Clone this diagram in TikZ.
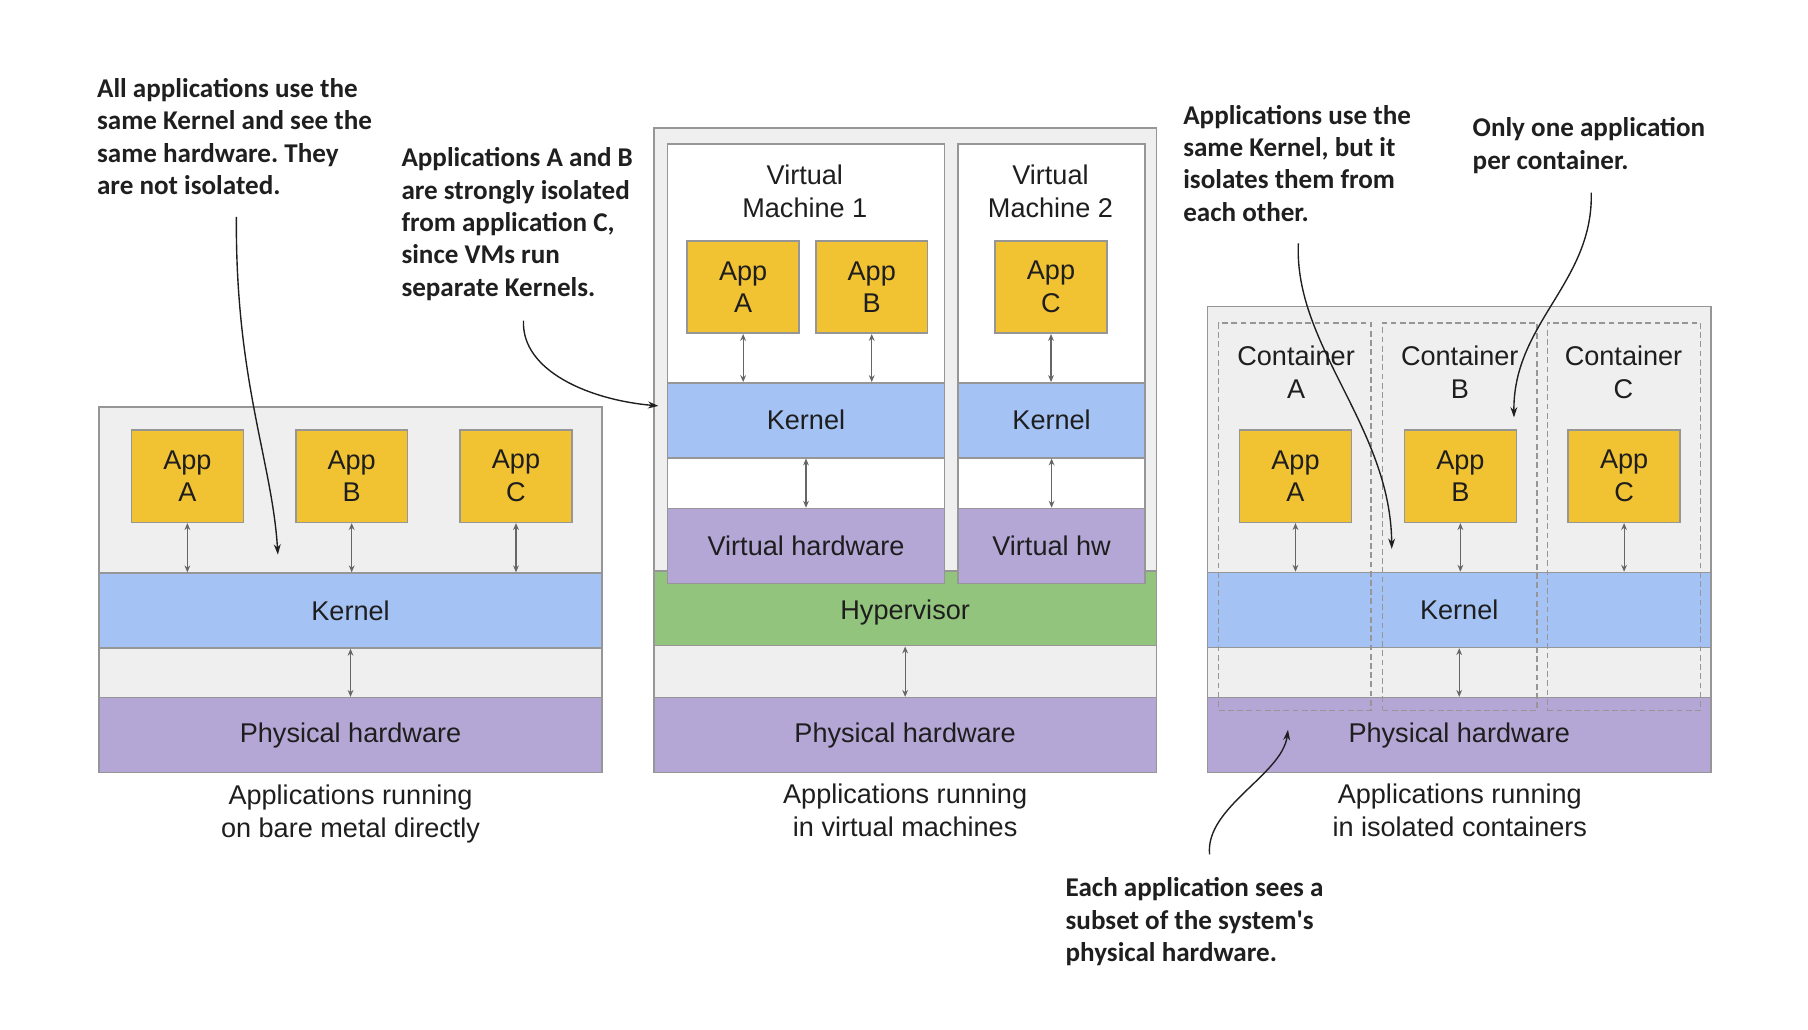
\documentclass[tikz,border=0pt]{standalone}
\usepackage{fontspec}
\setmainfont{Liberation Sans}
\newfontfamily\notefont{Carlito}
\usetikzlibrary{arrows.meta,positioning,calc}
\definecolor{appYellow}{RGB}{241,194,50}
\definecolor{kernBlue}{RGB}{164,194,244}
\definecolor{hwPurple}{RGB}{180,167,214}
\definecolor{hypGreen}{RGB}{147,196,125}
\definecolor{panelGray}{RGB}{239,239,239}
\definecolor{edgeGray}{RGB}{150,150,150}
\definecolor{txtDark}{RGB}{30,30,30}
\frenchspacing

\begin{document}
\begin{tikzpicture}[x=1pt, y=-1pt,
    box/.style={rectangle, draw=edgeGray, line width=1.3pt, inner sep=0pt,
                text=txtDark, align=center, font=\fontsize{23.5}{28.5}\selectfont},
    panel/.style={box, fill=panelGray},
    app/.style={box, fill=appYellow, minimum width=97pt, minimum height=80pt},
    layer/.style={box, minimum height=65pt},
    ctr/.style={rectangle, draw=edgeGray, line width=1.2pt, dash pattern=on 5pt off 3pt,
                minimum height=336pt, inner sep=0pt},
    lbl/.style={inner sep=0pt, text=txtDark, align=center, font=\fontsize{23.5}{28.5}\selectfont},
    note/.style={inner sep=0pt, anchor=north west, align=left, text=black!88,
                 font=\notefont\bfseries\fontsize{23.5}{28}\selectfont},
    link/.style={{Stealth[length=6pt,width=5pt]}-{Stealth[length=6pt,width=5pt]},
                 black!60, line width=1pt},
    pointer/.style={-{Stealth[length=9pt,width=6pt]}, black!88, line width=1.2pt}
  ]
  \useasboundingbox (0,0) rectangle (1568,893);

  % bare metal
  \node[panel, minimum width=436pt, minimum height=317pt] (bm) at (304,511.5) {};
  \node[app] (bmA) at (162.5,413) {App\\A};
  \node[app] (bmB) at (305,413)   {App\\B};
  \node[app] (bmC) at (447.5,413) {App\\C};
  \node[layer, fill=kernBlue, minimum width=436pt] (bmkern) at (304,529.5) {Kernel};
  \node[layer, fill=hwPurple, minimum width=436pt] (bmhw) at (304,637.5) {Physical hardware};
  \foreach \a in {bmA, bmB, bmC}
    \draw[link] (\a.south) -- (\a.south |- bmkern.north);
  \draw[link] (bmkern.south) -- (bmhw.north);
  \node[lbl] (bmcap) at (304,706) {Applications running\\on bare metal directly};

  % virtual machines
  \node[panel, minimum width=436pt, minimum height=559pt] (vmpanel) at (785,390.5) {};
  \node[layer, fill=hypGreen, minimum width=436pt] (hyp) at (785,527.5) {};
  \node[lbl] (hyplbl) at (785,531) {Hypervisor};
  \node[box, fill=white, minimum width=240pt, minimum height=381pt] (vm1) at (699,315.5) {};
  \node[box, fill=white, minimum width=162pt, minimum height=381pt] (vm2) at (912,315.5) {};
  \node[lbl] (vm1lbl) at (698,166) {Virtual\\Machine 1};
  \node[lbl] (vm2lbl) at (911,166) {Virtual\\Machine 2};
  \node[app] (vmA) at (644.5,249) {App\\A};
  \node[app] (vmB) at (756,249)   {App\\B};
  \node[app] (vmC) at (911.5,249) {App\\C};
  \node[layer, fill=kernBlue, minimum width=240pt] (vk1) at (699,364.5) {Kernel};
  \node[layer, fill=kernBlue, minimum width=162pt] (vk2) at (912,364.5) {Kernel};
  \node[layer, fill=hwPurple, minimum width=240pt] (vh1) at (699,473.5) {Virtual hardware};
  \node[layer, fill=hwPurple, minimum width=162pt] (vh2) at (912,473.5) {Virtual hw};
  \node[layer, fill=hwPurple, minimum width=436pt] (vmhw) at (785,637.5) {Physical hardware};
  \foreach \a/\b in {vmA/vk1, vmB/vk1, vmC/vk2}
    \draw[link] (\a.south) -- (\a.south |- \b.north);
  \foreach \a/\b in {vk1/vh1, vk2/vh2, hyp/vmhw}
    \draw[link] (\a.south) -- (\b.north);
  \node[lbl] (vmcap) at (785,703) {Applications running\\in virtual machines};

  % containers
  \node[panel, minimum width=437pt, minimum height=404pt] (ctpanel) at (1265.5,468) {};
  \node[layer, fill=kernBlue, minimum width=437pt] (ctkern) at (1265.5,529) {Kernel};
  \node[layer, fill=hwPurple, minimum width=437pt] (cthw) at (1265.5,637.5) {Physical hardware};
  \node[ctr, minimum width=132pt] (ctrA) at (1123,448)   {};
  \node[ctr, minimum width=134pt] (ctrB) at (1266,448)   {};
  \node[ctr, minimum width=133pt] (ctrC) at (1408.5,448) {};
  \node[lbl] (ctrAlbl) at (1124,323) {Container\\A};
  \node[lbl] (ctrBlbl) at (1266,323) {Container\\B};
  \node[lbl] (ctrClbl) at (1408,323) {Container\\C};
  \node[app] (ctA) at (1123.5,413) {App\\A};
  \node[app] (ctB) at (1266.5,413) {App\\B};
  \node[app] (ctC) at (1408.5,413) {App\\C};
  \foreach \a in {ctA, ctB, ctC}
    \draw[link] (\a.south) -- (\a.south |- ctkern.north);
  \draw[link] (ctkern.south) -- (cthw.north);
  \node[lbl] (ctcap) at (1266,703) {Applications running\\in isolated containers};

  % notes
  \node[note] (n1) at (84,68)    {All applications use the\\same Kernel and see the\\same hardware. They\\are not isolated.};
  \node[note] (n2) at (348,128)  {Applications A and B\\are strongly isolated\\from application C,\\since VMs run\\separate Kernels.};
  \node[note] (n3) at (1026,91)  {Applications use the\\same Kernel, but it\\isolates them from\\each other.};
  \node[note] (n4) at (1277,102) {Only one application\\per container.};
  \node[note] (n5) at (924,761)  {Each application sees a\\subset of the system's\\physical hardware.};

  \coordinate (p1s) at (205,188);  \coordinate (p1e) at (241,481);
  \coordinate (p2s) at (454,278);  \coordinate (p2e) at (571,352);
  \coordinate (p3s) at (1126,211); \coordinate (p3e) at (1207,476);
  \coordinate (p4s) at (1380,167); \coordinate (p4e) at (1313,362);
  \coordinate (p5s) at (1049,741); \coordinate (p5e) at (1117,633);
  \draw[pointer] (p1s) .. controls (204,330) and (236,400) .. (p1e);
  \draw[pointer] (p2s) .. controls (452,322) and (512,347) .. (p2e);
  \draw[pointer] (p3s) .. controls (1122,300) and (1206,370) .. (p3e);
  \draw[pointer] (p4s) .. controls (1382,245) and (1312,280) .. (p4e);
  \draw[pointer] (p5s) .. controls (1045,700) and (1112,672) .. (p5e);
\end{tikzpicture}
\end{document}
